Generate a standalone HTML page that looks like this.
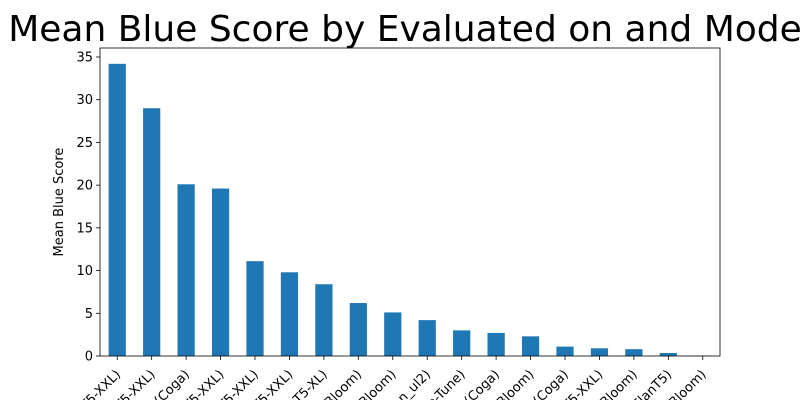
<!DOCTYPE html>
<html><head><meta charset="utf-8"><style>
html,body{margin:0;background:#fff;overflow:hidden;width:800px;height:400px}
svg{font-family:"DejaVu Sans","Liberation Sans",sans-serif;display:block;overflow:hidden}
</style></head><body>
<svg id="c" width="800" height="400" viewBox="0 0 800 400">
<text x="410" y="41" font-size="36" text-anchor="middle">Mean Blue Score by Evaluated on and Model</text>
<g id="plot"></g>
</svg>
<script>
const categories=["EN (T5-XXL)","DE (T5-XXL)","EN (Coga)","FR (T5-XXL)","ES (T5-XXL)","IT (T5-XXL)","PT (FlanT5-XL)","EN (Bloom)","DE (Bloom)","EN (flan_ul2)","EN (Fine-Tune)","DE (Coga)","FR (Bloom)","FR (Coga)","ZH (T5-XXL)","ES (Bloom)","ZH (FlanT5)","ZH (Bloom)"];
const values=[34.2,29.0,20.1,19.6,11.1,9.8,8.4,6.2,5.1,4.2,3.0,2.7,2.3,1.1,0.9,0.8,0.35,0.05];
const yTicks=[0,5,10,15,20,25,30,35];
const NS="http://www.w3.org/2000/svg";
const L=100,R=720,T=48,B=356;
const y=v=>B-v*(299/35);
const step=(R-L)/categories.length;
const x=i=>L+step*(i+0.5);
const g=document.getElementById('plot');
function mk(t,a){const e=document.createElementNS(NS,t);for(const k in a)e.setAttribute(k,a[k]);g.appendChild(e);return e;}
values.forEach((v,i)=>{
 const b=mk('rect',{x:x(i)-step*0.25,y:y(v),width:step*0.5,height:B-y(v),fill:'#1f77b4'});
 
 
 mk('line',{x1:x(i),x2:x(i),y1:B,y2:B+4,stroke:'#000','stroke-width':0.8});
 const lb=mk('text',{x:x(i)+4,y:B+19,'font-size':13,'text-anchor':'end',transform:`rotate(-45 ${x(i)+4} ${B+19})`});
 lb.textContent=categories[i];
 
 
});
yTicks.forEach(v=>{
 mk('line',{x1:L-4,x2:L,y1:y(v),y2:y(v),stroke:'#000','stroke-width':0.8});
 const t=mk('text',{x:L-7,y:y(v)+4.5,'font-size':13,'text-anchor':'end'});
 t.textContent=v;
 
 
});
const f=mk('rect',{x:L,y:T,width:R-L,height:B-T,fill:'none',stroke:'#000','stroke-width':0.8});


const yt=mk('text',{x:63,y:(T+B)/2,'font-size':13,'text-anchor':'middle',transform:`rotate(-90 63 ${(T+B)/2})`});
yt.textContent='Mean Blue Score';


</script>
</body></html>
